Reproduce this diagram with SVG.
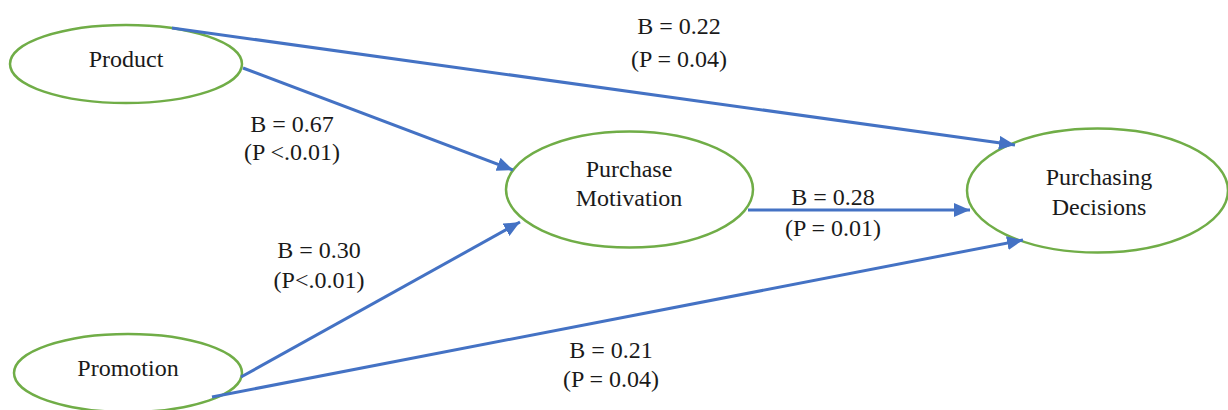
<svg xmlns="http://www.w3.org/2000/svg" width="1228" height="410" viewBox="0 0 1228 410">
  <style>
    .node { fill: #ffffff; stroke: #70AD47; stroke-width: 2.5; }
    .label { font-family: "Liberation Serif", "Times New Roman", serif; font-size: 24px; fill: #1a1a1a; text-anchor: middle; }
    .edge { stroke: #4472C4; stroke-width: 3; fill: none; marker-end: url(#arrow); }
  </style>
  <defs>
    <marker id="arrow" markerUnits="userSpaceOnUse" markerWidth="16" markerHeight="14" refX="16" refY="7" orient="auto" viewBox="0 0 16 14">
      <path d="M0,0 L16,7 L0,14 Z" fill="#4472C4"/>
    </marker>
  </defs>

  <rect width="1228" height="410" fill="#ffffff"/>

  <!-- nodes -->
  <g id="product">
    <ellipse class="node" cx="126" cy="64" rx="116" ry="39"/>
    <text class="label" x="126" y="67">Product</text>
  </g>
  <g id="promotion">
    <ellipse class="node" cx="128" cy="373" rx="114" ry="39"/>
    <text class="label" x="128" y="376">Promotion</text>
  </g>
  <g id="purchase-motivation">
    <ellipse class="node" cx="629.5" cy="189.5" rx="123.5" ry="58"/>
    <text class="label" x="629" y="177">Purchase</text>
    <text class="label" x="629" y="206">Motivation</text>
  </g>
  <g id="purchasing-decisions">
    <ellipse class="node" cx="1097.5" cy="190.5" rx="130.5" ry="62"/>
    <text class="label" x="1099" y="185">Purchasing</text>
    <text class="label" x="1099" y="215">Decisions</text>
  </g>

  <!-- connectors -->
  <g id="connectors">
    <line class="edge" x1="172" y1="28" x2="1015" y2="145"/>
    <line class="edge" x1="243" y1="68" x2="513" y2="170"/>
    <line class="edge" x1="241" y1="377" x2="520" y2="222"/>
    <line class="edge" x1="212" y1="397" x2="1023" y2="240"/>
    <line class="edge" x1="748" y1="210" x2="970" y2="210"/>
  </g>

  <!-- path coefficients -->
  <g id="coefficients">
    <text class="label" x="679" y="34">B = 0.22</text>
    <text class="label" x="679" y="67">(P = 0.04)</text>
    <text class="label" x="292" y="132">B = 0.67</text>
    <text class="label" x="292" y="160">(P &lt;.0.01)</text>
    <text class="label" x="319" y="258">B = 0.30</text>
    <text class="label" x="319" y="288">(P&lt;.0.01)</text>
    <text class="label" x="833" y="205">B = 0.28</text>
    <text class="label" x="833" y="236">(P = 0.01)</text>
    <text class="label" x="611" y="358">B = 0.21</text>
    <text class="label" x="611" y="387">(P = 0.04)</text>
  </g>
</svg>
